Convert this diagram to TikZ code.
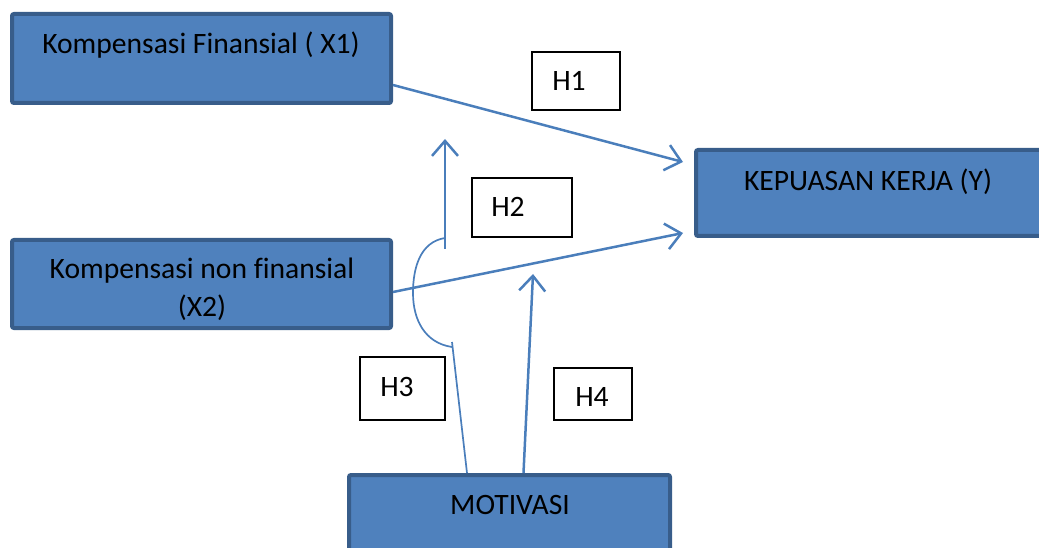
\documentclass[tikz,border=0pt]{standalone}
\usepackage{fontspec}
\setmainfont[Ligatures=NoCommon]{Carlito}
\usetikzlibrary{arrows.meta}
\definecolor{boxfill}{HTML}{4F81BD}
\definecolor{boxline}{HTML}{385D8A}
\definecolor{conn}{HTML}{4A7EBB}
\begin{document}
\begin{tikzpicture}[x=1pt,y=-1pt,
  bigbox/.style={draw=boxline,fill=boxfill,line width=4pt,rounded corners=2pt,inner sep=0pt},
  hbox/.style={draw=black,fill=white,line width=1.2pt,inner sep=0pt},
  txt/.style={font=\fontsize{29.6}{38}\selectfont,inner sep=0pt,align=center,text=black},
  con/.style={draw=conn,line width=2.5pt},
  arr/.style={con,-{Straight Barb[length=15pt,width=26pt,line width=2.5pt]}}]
\useasboundingbox (0,0) rectangle (1039,548);
\clip (0,0) rectangle (1039,548);
% boxes
\node[bigbox,minimum width=379pt,minimum height=89pt] (x1) at (201.5,58.5) {};
\node[txt] (x1t) at (201,45) {Kompensasi Finansial ( X1)};
\node[bigbox,minimum width=379pt,minimum height=88pt] (x2) at (201.5,284) {};
\node[txt] (x2t) at (202,289) {Kompensasi non finansial\\(X2)};
\node[bigbox,minimum width=362pt,minimum height=86pt] (ky) at (877,193) {};
\node[txt] (kyt) at (868,182) {KEPUASAN KERJA (Y)};
\node[bigbox,minimum width=321pt,minimum height=93pt] (mot) at (509.5,521.5) {};
\node[txt] (mott) at (510,505) {MOTIVASI};
% hypothesis boxes
\node[hbox,minimum width=88pt,minimum height=58pt] (h1) at (576,81) {};
\node[txt] (h1t) at (569,81) {H1};
\node[hbox,minimum width=100pt,minimum height=59pt] (h2) at (522,207.5) {};
\node[txt] (h2t) at (508,207) {H2};
\node[hbox,minimum width=85pt,minimum height=63pt] (h3) at (402.5,388.5) {};
\node[txt] (h3t) at (397,387) {H3};
\node[hbox,minimum width=78pt,minimum height=52pt] (h4) at (593,394) {};
\node[txt] (h4t) at (592,397) {H4};
% free coordinates
\coordinate (v0) at (445,249);
\coordinate (v1) at (445,139);
\coordinate (a0) at (445,238);
\coordinate (a1) at (452,347);
\coordinate (m3) at (452,342);
\coordinate (m4) at (533,274);
% connectors
\draw[arr] ([yshift=-26.5pt]x1.east) -- ([xshift=-11pt,yshift=31pt]ky.west);
\draw[arr] ([yshift=-8pt]x2.east) -- ([xshift=-11pt,yshift=-40pt]ky.west);
\draw[arr] (v0) -- (v1);
\draw[con,line width=1.7pt] (a0) .. controls (420,242) and (413,268) .. (413,293) .. controls (413,320) and (425,343) .. (a1);
\draw[con,line width=1.7pt] ([xshift=-42.5pt]mot.north) -- (m3);
\draw[arr] ([xshift=14pt]mot.north) -- (m4);
\end{tikzpicture}
\end{document}
